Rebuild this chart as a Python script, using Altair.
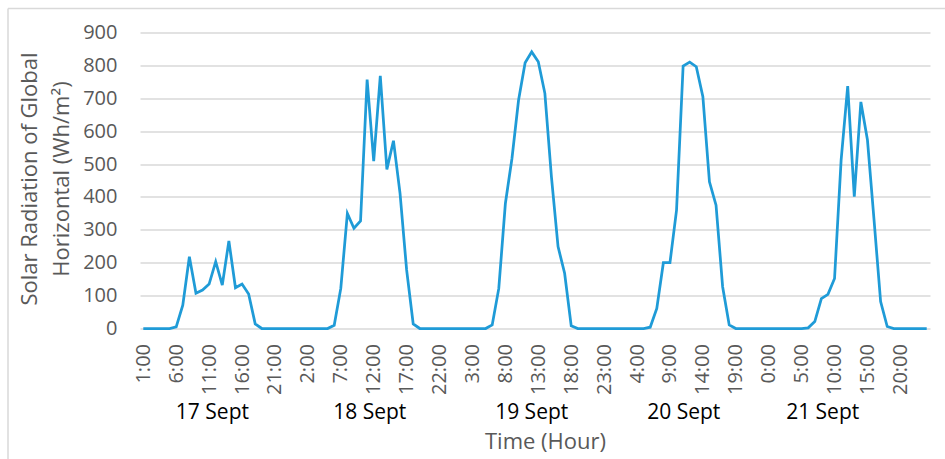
import json
import altair as alt
import pandas as pd

# ---- data ----
days = ["17 Sept", "18 Sept", "19 Sept", "20 Sept", "21 Sept"]
sept17 = [0, 0, 0, 0, 0, 5, 71, 218, 107, 117, 135, 203, 132, 266, 124, 135, 105, 14, 0, 0, 0, 0, 0, 0]
sept18 = [0, 0, 0, 0, 0, 10, 122, 350, 305, 327, 757, 509, 768, 484, 571, 411, 178, 14, 0, 0, 0, 0, 0, 0]
sept19 = [0, 0, 0, 0, 0, 11, 122, 380, 517, 694, 808, 841, 811, 715, 460, 249, 168, 8, 0, 0, 0, 0, 0, 0]
sept20 = [0, 0, 0, 0, 0, 4, 61, 200, 200, 360, 798, 810, 796, 705, 446, 375, 127, 11, 0, 0, 0, 0, 0, 0]
sept21 = [0, 0, 0, 0, 0, 2, 21, 91, 104, 152, 512, 737, 401, 689, 573, 330, 82, 6, 0, 0, 0, 0, 0, 0]
hour_labels = ["1:00", "6:00", "11:00", "16:00", "21:00", "2:00", "7:00", "12:00",
               "17:00", "22:00", "3:00", "8:00", "13:00", "18:00", "23:00", "4:00",
               "9:00", "14:00", "19:00", "0:00", "5:00", "10:00", "15:00", "20:00"]
day_label_hour = [10.5, 34.4, 59.0, 82.1, 103.2]
y_ticks = [0, 100, 200, 300, 400, 500, 600, 700, 800, 900]

values = sept17 + sept18 + sept19 + sept20 + sept21
df = pd.DataFrame({"hour": list(range(len(values))), "radiation": values})
labels_df = pd.DataFrame({"hour": day_label_hour, "day": days})
one = pd.DataFrame({"a": [0]})

GRAY = "#595959"
x_scale = alt.Scale(domain=[-0.5, len(values) - 0.5], nice=False, zero=False)
tick_vals = list(range(0, len(values), 5))
label_expr = json.dumps(hour_labels) + "[round(datum.value / 5)]"

x_axis = alt.Axis(values=tick_vals, labelExpr=label_expr, labelAngle=270,
                  labelFontSize=20, labelColor=GRAY, labelPadding=15,
                  labelOverlap=False, labelFlush=False,
                  domain=False, ticks=False, grid=False,
                  title="Time (Hour)", titleFontSize=22, titleColor=GRAY,
                  titleFontWeight="normal", titleX=405, titleY=120,
                  titleBaseline="alphabetic", titleAlign="center")

line = alt.Chart(df).mark_line(color="#1f9bd7", strokeWidth=2.75).encode(
    x=alt.X("hour:Q", scale=x_scale, axis=x_axis),
    y=alt.Y("radiation:Q", scale=alt.Scale(domain=[0, 900], nice=False),
            axis=alt.Axis(values=y_ticks, grid=True, gridColor="#d9d9d9", gridWidth=1.5,
                          domain=False, ticks=False, labelFontSize=20, labelColor=GRAY,
                          labelPadding=23, labelOverlap=False, labelFlush=False,
                          title=["Solar Radiation of Global", "Horizontal (Wh/m²)"],
                          titleFontSize=22, titleColor=GRAY, titleFontWeight="normal",
                          titleLineHeight=32, titleX=-121, titleY=146,
                          titleBaseline="top", titleAngle=270, titleAlign="center")),
)

day_text = alt.Chart(labels_df).mark_text(fontSize=21, color="#000000",
                                          baseline="alphabetic", align="center").encode(
    x=alt.X("hour:Q", scale=x_scale, axis=x_axis),
    y=alt.value(386.5),
    text="day:N",
)

frame_top = alt.Chart(one).mark_rule(color="#d9d9d9", strokeWidth=1.5).encode(
    x=alt.value(-132), x2=alt.value(820), y=alt.value(-24))
frame_left = alt.Chart(one).mark_rule(color="#d9d9d9", strokeWidth=1.5).encode(
    x=alt.value(-132), y=alt.value(-24), y2=alt.value(440))

chart = alt.layer(frame_top, frame_left, line, day_text).properties(
    width=790, height=296,
    padding={"left": 140, "top": 32.5, "right": 15, "bottom": 130.5},
    autosize=alt.AutoSizeParams(type="none"),
    background="white",
).configure(font="Open Sans").configure_view(stroke=None).configure_axis(labelOverlap=False)

chart.save("out.html", embed_options={"renderer": "svg", "actions": False})
